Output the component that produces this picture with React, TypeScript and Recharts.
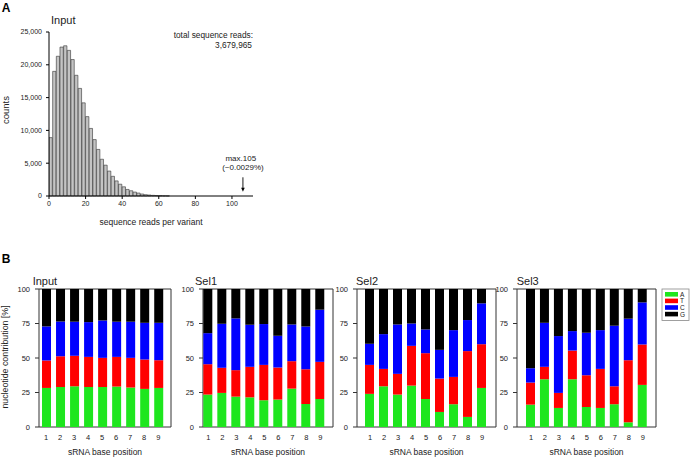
import React from 'react';
import { BarChart, Bar, XAxis, YAxis, ReferenceArea, ReferenceLine } from 'recharts';

const FONT = '"Liberation Sans", Arial, Helvetica, sans-serif';
const INK = '#222';

// panel A: reads per variant, bins 2 reads wide
const binStarts = [0, 2, 4, 6, 8, 10, 12, 14, 16, 18, 20, 22, 24, 26, 28, 30, 32,
  34, 36, 38, 40, 42, 44, 46, 48, 50, 52, 54, 56, 58, 60, 62, 64];
const binCounts = [8900, 19000, 21300, 22700, 22900, 22200, 20800, 18400, 16400, 14200,
  12100, 10300, 8600, 7100, 5600, 4700, 3800, 3000, 2300, 1800, 1400, 1000, 800, 600,
  450, 300, 200, 150, 100, 70, 50, 30, 20];
const countTicks = [0, 5000, 10000, 15000, 20000, 25000];
const readTicks = [0, 20, 40, 60, 80, 100];
const maxReadsArrow = 106;

// panel B: nucleotide share per position (%)
const positions = [1, 2, 3, 4, 5, 6, 7, 8, 9];
const nucleotides = ['A', 'T', 'C', 'G'];
const nucleotideColors = ['#1ee61e', '#ff0000', '#0000ff', '#000000'];
const pctTicks = [0, 25, 50, 75, 100];

const inputA = [28.3, 29, 29.5, 29, 29, 29.3, 28.6, 27.6, 28.3];
const inputT = [19.9, 22.3, 22.1, 21.8, 21.1, 21.5, 21.5, 21.3, 20.1];
const inputC = [24.7, 25.2, 24.7, 25.2, 27.1, 25.5, 26.2, 26.6, 27.1];
const inputG = [27.1, 23.5, 23.7, 24, 22.8, 23.7, 23.7, 24.5, 24.5];

const sel1A = [23.5, 24.7, 22, 21.5, 19.4, 19.9, 27.8, 16.7, 20.3];
const sel1T = [22, 18.2, 19.2, 22.1, 25.6, 23.2, 19.9, 25.2, 26.9];
const sel1C = [22.5, 31.9, 37.5, 30.5, 29.6, 23, 26.6, 31, 37.8];
const sel1G = [32, 25.2, 21.3, 25.9, 25.4, 33.9, 25.7, 27.1, 15];

const sel2A = [24, 29.5, 23.5, 30, 20.3, 10.9, 16.5, 7.3, 28.3];
const sel2T = [21, 12.6, 15, 28.8, 33.2, 24.2, 19.8, 47.7, 31.7];
const sel2C = [15.3, 25.2, 35.8, 16.2, 17.2, 20.8, 33.9, 22.5, 29.6];
const sel2G = [39.7, 32.7, 25.7, 25, 29.3, 44.1, 29.8, 22.5, 10.4];

const sel3A = [16.2, 34.6, 13.8, 34.6, 14.5, 13.8, 16.5, 3.4, 30.5];
const sel3T = [16, 9, 10.9, 20.8, 23, 28.3, 13, 45, 29.3];
const sel3C = [10.4, 31.9, 41.2, 14.1, 30.8, 28.1, 43.9, 30.1, 30.5];
const sel3G = [57.4, 24.5, 34.1, 30.5, 31.7, 29.8, 26.6, 21.5, 9.7];

const histRows = binStarts.map((s, i) => ({ mid: s + 1, count: binCounts[i] }));

const toRows = (a: number[], t: number[], c: number[], g: number[]) =>
  positions.map((p, i) => ({ pos: p, A: a[i], T: t[i], C: c[i], G: g[i] }));

// arrow + "max" note drawn at the reference segment
const MaxArrow = (p: any) => {
  const { x1, y1, x2, y2 } = p;
  return (
    <g>
      <line x1={x1} y1={y1} x2={x2} y2={y2 - 3} stroke="#000" strokeWidth={0.9} />
      <polygon points={`${x2 - 1.8},${y2 - 4} ${x2 + 1.8},${y2 - 4} ${x2},${y2}`} fill="#000" />
      <text x={x1 - 2.2} y={y1 - 16.5} textAnchor="middle" fontSize={8} fill={INK} fontFamily={FONT}>max.105</text>
      <text x={x1} y={y1 - 7} textAnchor="middle" fontSize={8} fill={INK} fontFamily={FONT}>(~0.0029%)</text>
    </g>
  );
};

const Histogram = () => (
  <div style={{ position: 'absolute', left: 0, top: 0 }}>
    <BarChart width={275} height={235} data={histRows} margin={{ top: 32, right: 22, left: 14, bottom: 7 }}>
      <XAxis
        dataKey="mid"
        type="number"
        domain={[0, 111.5]}
        ticks={readTicks}
        allowDataOverflow
        height={32}
        tickSize={3}
        tickMargin={2.5}
        stroke="#000"
        tick={{ fontSize: 7, fill: INK, fontFamily: FONT }}
        label={{ value: 'sequence reads per variant', position: 'insideBottom', offset: 3, fontSize: 8.5, fill: INK, fontFamily: FONT }}
      />
      <YAxis
        domain={[0, 25000]}
        ticks={countTicks}
        width={35}
        tickSize={3}
        tickMargin={4}
        stroke="#000"
        tick={{ fontSize: 7, fill: INK, fontFamily: FONT }}
        tickFormatter={(v: number) => v.toLocaleString('en-US')}
      />
      <Bar dataKey="count" fill="#c4c4c4" stroke="#333" strokeWidth={0.6} barSize={3.66} isAnimationActive={false} />
      <ReferenceLine
        segment={[{ x: maxReadsArrow, y: 2850 }, { x: maxReadsArrow, y: 650 }]}
        ifOverflow="visible"
        shape={MaxArrow}
      />
    </BarChart>
  </div>
);

type PanelProps = {
  rows: any[];
  left: number;
  width: number;
  axisWidth: number;
  marginRight: number;
  domain: [number, number];
};

const Composition = ({ rows, left, width, axisWidth, marginRight, domain }: PanelProps) => (
  <div style={{ position: 'absolute', left, top: 270 }}>
    <BarChart width={width} height={189} data={rows} margin={{ top: 19, right: marginRight, left: 0, bottom: 2 }}>
      <XAxis
        dataKey="pos"
        type="number"
        domain={domain}
        ticks={positions}
        interval={0}
        allowDataOverflow
        axisLine={false}
        tickLine={false}
        height={30}
        tickSize={5}
        tickMargin={2.5}
        tick={{ fontSize: 7.5, fill: INK, fontFamily: FONT }}
        label={{ value: 'sRNA base position', position: 'insideBottom', offset: 2, fontSize: 8.5, fill: INK, fontFamily: FONT }}
      />
      <YAxis
        domain={[0, 100]}
        ticks={pctTicks}
        width={axisWidth}
        axisLine={false}
        tickLine={{ stroke: '#333' }}
        tickSize={4}
        tickMargin={5}
        tick={{ fontSize: 7.5, fill: INK, fontFamily: FONT }}
      />
      <ReferenceArea x1={domain[0]} x2={domain[1]} y1={0} y2={100} fill="none" stroke="#333" strokeWidth={1} ifOverflow="visible" />
      {nucleotides.map((n, i) => (
        <Bar key={n} dataKey={n} stackId="nt" fill={nucleotideColors[i]} barSize={9} isAnimationActive={false} />
      ))}
    </BarChart>
  </div>
);

const panelTitles = ['Input', 'Sel1', 'Sel2', 'Sel3'];
const titleX = [32.7, 195, 356, 516.7];

const Overlay = () => (
  <svg width={691} height={459} style={{ position: 'absolute', left: 0, top: 0, pointerEvents: 'none' }} fontFamily={FONT}>
    <text x={1.7} y={11.7} fontSize={12} fontWeight="bold" fill="#000">A</text>
    <text x={51} y={24.3} fontSize={11} fill={INK}>Input</text>
    <text x={253} y={38} fontSize={8.3} fill={INK} textAnchor="end">total sequence reads:</text>
    <text x={252} y={47.5} fontSize={8.3} fill={INK} textAnchor="end">3,679,965</text>
    <text transform="translate(9.3,110) rotate(-90)" fontSize={9.5} fill={INK} textAnchor="middle">counts</text>

    <text x={1.7} y={263.3} fontSize={12} fontWeight="bold" fill="#000">B</text>
    {panelTitles.map((t, i) => (
      <text key={t} x={titleX[i]} y={284.5} fontSize={11} fill={INK}>{t}</text>
    ))}
    <text transform="translate(8,357) rotate(-90)" fontSize={8.8} fill={INK} textAnchor="middle">nucleotide contribution [%]</text>

    <rect x={662} y={289} width={27} height={31.5} fill="#fff" stroke="#888" strokeWidth={0.8} />
    {nucleotides.map((n, i) => (
      <g key={n}>
        <rect x={665} y={292 + i * 6.6} width={13} height={4.6} fill={nucleotideColors[i]} />
        <text x={680} y={296.7 + i * 6.6} fontSize={6.5} fill={INK}>{n}</text>
      </g>
    ))}
  </svg>
);

const App = () => (
  <div style={{ position: 'absolute', left: 0, top: 0, width: 691, height: 459, background: '#fff', fontFamily: FONT }}>
    <Histogram />
    <Composition rows={toRows(inputA, inputT, inputC, inputG)} left={0} width={180} axisWidth={39} marginRight={9} domain={[0.5, 9.91]} />
    <Composition rows={toRows(sel1A, sel1T, sel1C, sel1G)} left={175} width={165} axisWidth={28} marginRight={7} domain={[0.62, 9.91]} />
    <Composition rows={toRows(sel2A, sel2T, sel2C, sel2G)} left={330} width={170} axisWidth={27} marginRight={4} domain={[0.07, 10]} />
    <Composition rows={toRows(sel3A, sel3T, sel3C, sel3G)} left={490} width={168} axisWidth={27} marginRight={2} domain={[0, 9.95]} />
    <Overlay />
  </div>
);

export default App;
